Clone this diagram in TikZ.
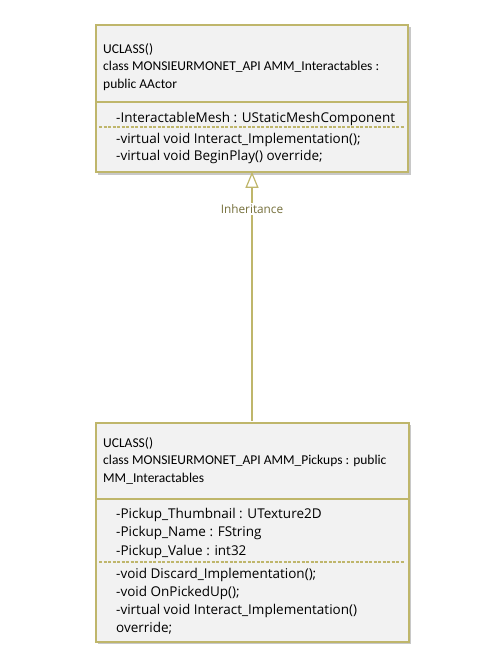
\documentclass[tikz,border=0pt]{standalone}
\usepackage{fontspec}
\setmainfont{Carlito}
\newfontfamily\compfont{Open Sans}
\usetikzlibrary{arrows.meta}
\definecolor{umlline}{RGB}{191,182,107}
\definecolor{umlfill}{RGB}{242,242,242}
\definecolor{umllabel}{RGB}{118,112,60}
\definecolor{umlshadow}{RGB}{200,200,200}
\tikzset{
  classbox/.style={draw=umlline, line width=1.5pt, fill=umlfill, rectangle, inner sep=0pt, anchor=north west},
  shadowbox/.style={fill=umlshadow, rectangle, inner sep=0pt, anchor=north west, draw=none},
  txt/.style={anchor=base west, inner sep=0pt, font=\fontsize{13.5}{17.6}\selectfont, text=black},
  ctxt/.style={anchor=base west, inner sep=0pt, font=\compfont\fontsize{13.5}{17.6}\selectfont, text=black},
  sep/.style={draw=umlline, line width=1.2pt},
  dsep/.style={draw=umlline, line width=1.2pt, dash pattern=on 3pt off 1.5pt},
}
\begin{document}
\begin{tikzpicture}[x=1pt,y=-1pt]
\useasboundingbox (0,0) rectangle (498,664);
% shadows
\node[shadowbox, minimum width=313pt, minimum height=148pt] (shA) at (98,27) {};
\node[shadowbox, minimum width=313pt, minimum height=219pt] (shB) at (98,425) {};
% boxes
\node[classbox, minimum width=312pt, minimum height=147pt] (A) at (95,24) {};
\node[classbox, minimum width=313pt, minimum height=219pt] (B) at (95,422) {};
% separators
\coordinate (a1) at (95,102); \coordinate (a2) at (407,102);
\draw[sep] (a1) -- (a2);
\coordinate (a3) at (99,127); \coordinate (a4) at (404,127);
\draw[dsep] (a3) -- (a4);
\coordinate (b1) at (95,499); \coordinate (b2) at (408,499);
\draw[sep] (b1) -- (b2);
\coordinate (b3) at (99,562); \coordinate (b4) at (405,562);
\draw[dsep] (b3) -- (b4);
% texts top
\node[txt] (a-h1) at (103,53) {UCLASS()};
\node[txt] (a-h2) at (103,70.5) {class MONSIEURMONET\_API AMM\_Interactables :};
\node[txt] (a-h3) at (103,88) {public AActor};
\node[ctxt] (a-at1) at (116,122) {-InteractableMesh : UStaticMeshComponent};
\node[ctxt] (a-m1) at (116,143) {-virtual void Interact\_Implementation();};
\node[ctxt] (a-m2) at (116,160.5) {-virtual void BeginPlay() override;};
% texts bottom
\node[txt] (b-h1) at (103,447) {UCLASS()};
\node[txt] (b-h2) at (103,464.5) {class MONSIEURMONET\_API AMM\_Pickups : public};
\node[txt] (b-h3) at (103,482) {MM\_Interactables};
\node[ctxt] (b-at1) at (116,518) {-Pickup\_Thumbnail : UTexture2D};
\node[ctxt] (b-at2) at (116,536.5) {-Pickup\_Name : FString};
\node[ctxt] (b-at3) at (116,555) {-Pickup\_Value : int32};
\node[ctxt] (b-m1) at (116,578) {-void Discard\_Implementation();};
\node[ctxt] (b-m2) at (116,596) {-void OnPickedUp();};
\node[ctxt] (b-m3) at (116,614) {-virtual void Interact\_Implementation()};
\node[ctxt] (b-m4) at (116,632.5) {override;};
% inheritance
\node[inner sep=1.5pt, fill=white, text=umllabel, font=\compfont\fontsize{11.8}{14}\selectfont] (lbl) at (252,209) {Inheritance};
\coordinate (At) at (252,171.8);
\coordinate (Bt) at (252,421.2);
\draw[umlline, line width=1.5pt, -{Triangle[open, length=16pt, width=13pt, line width=1.2pt]}] (lbl.north) -- (At);
\draw[umlline, line width=1.5pt] (Bt) -- (lbl.south);
\end{tikzpicture}
\end{document}
